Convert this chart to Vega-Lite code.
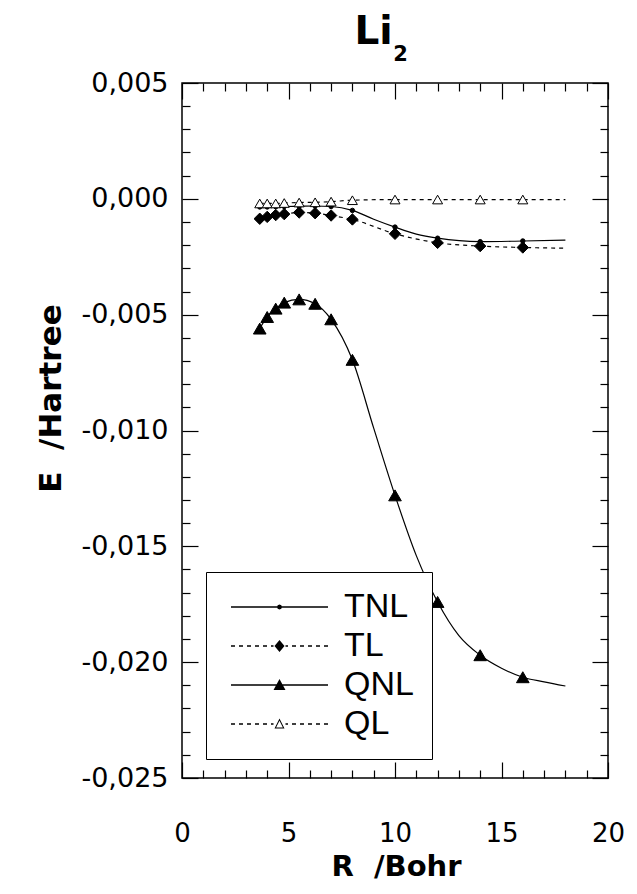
{
  "$schema": "https://vega.github.io/schema/vega-lite/v6.json",
  "autosize": "none",
  "width": 426,
  "height": 695,
  "padding": {"left": 182, "top": 83, "right": 29, "bottom": 116},
  "background": "white",
  "config": {
    "view": {"stroke": "black", "strokeWidth": 1.5},
    "axis": {"grid": false, "domain": false, "tickColor": "black", "tickWidth": 1.2}
  },
  "datasets": {
    "lines": [
      {"series": "TNL", "R": 3.65, "E": -0.00035},
      {"series": "TNL", "R": 4.0, "E": -0.00035},
      {"series": "TNL", "R": 4.4, "E": -0.00034},
      {"series": "TNL", "R": 4.8, "E": -0.00033},
      {"series": "TNL", "R": 5.5, "E": -0.00032},
      {"series": "TNL", "R": 6.25, "E": -0.00031},
      {"series": "TNL", "R": 7, "E": -0.00033},
      {"series": "TNL", "R": 8, "E": -0.0005},
      {"series": "TNL", "R": 9, "E": -0.00088},
      {"series": "TNL", "R": 10, "E": -0.00122},
      {"series": "TNL", "R": 11, "E": -0.00152},
      {"series": "TNL", "R": 12, "E": -0.0017},
      {"series": "TNL", "R": 14, "E": -0.00185},
      {"series": "TNL", "R": 16, "E": -0.00182},
      {"series": "TNL", "R": 18, "E": -0.00178},
      {"series": "TL", "R": 3.65, "E": -0.00086},
      {"series": "TL", "R": 4.0, "E": -0.00078},
      {"series": "TL", "R": 4.4, "E": -0.0007},
      {"series": "TL", "R": 4.8, "E": -0.00066},
      {"series": "TL", "R": 5.5, "E": -0.00059},
      {"series": "TL", "R": 6.25, "E": -0.00062},
      {"series": "TL", "R": 7, "E": -0.00072},
      {"series": "TL", "R": 8, "E": -0.00089},
      {"series": "TL", "R": 10, "E": -0.00151},
      {"series": "TL", "R": 12, "E": -0.0019},
      {"series": "TL", "R": 14, "E": -0.00204},
      {"series": "TL", "R": 16, "E": -0.0021},
      {"series": "TL", "R": 18, "E": -0.00213},
      {"series": "QNL", "R": 3.65, "E": -0.0056},
      {"series": "QNL", "R": 4.0, "E": -0.0051},
      {"series": "QNL", "R": 4.4, "E": -0.00474},
      {"series": "QNL", "R": 4.8, "E": -0.00448},
      {"series": "QNL", "R": 5.5, "E": -0.00434},
      {"series": "QNL", "R": 6.25, "E": -0.00453},
      {"series": "QNL", "R": 7, "E": -0.0052},
      {"series": "QNL", "R": 8, "E": -0.00695},
      {"series": "QNL", "R": 9, "E": -0.0099},
      {"series": "QNL", "R": 10, "E": -0.0128},
      {"series": "QNL", "R": 11, "E": -0.0154},
      {"series": "QNL", "R": 12, "E": -0.0174},
      {"series": "QNL", "R": 13, "E": -0.01885},
      {"series": "QNL", "R": 14, "E": -0.0197},
      {"series": "QNL", "R": 15, "E": -0.02026},
      {"series": "QNL", "R": 16, "E": -0.02065},
      {"series": "QNL", "R": 17, "E": -0.02085},
      {"series": "QNL", "R": 18, "E": -0.02103},
      {"series": "QL", "R": 3.65, "E": -0.0002},
      {"series": "QL", "R": 4.0, "E": -0.0002},
      {"series": "QL", "R": 4.4, "E": -0.0002},
      {"series": "QL", "R": 4.8, "E": -0.00018},
      {"series": "QL", "R": 5.5, "E": -0.00016},
      {"series": "QL", "R": 6.25, "E": -0.00015},
      {"series": "QL", "R": 7, "E": -0.00012},
      {"series": "QL", "R": 8, "E": -0.00006},
      {"series": "QL", "R": 10, "E": -0.00003},
      {"series": "QL", "R": 12, "E": -0.00003},
      {"series": "QL", "R": 14, "E": -0.00003},
      {"series": "QL", "R": 16, "E": -0.00003},
      {"series": "QL", "R": 18, "E": -0.00003}
    ],
    "points": [
      {"series": "TNL", "R": 3.65, "E": -0.00035},
      {"series": "TNL", "R": 4.0, "E": -0.00035},
      {"series": "TNL", "R": 4.4, "E": -0.00034},
      {"series": "TNL", "R": 4.8, "E": -0.00033},
      {"series": "TNL", "R": 5.5, "E": -0.00032},
      {"series": "TNL", "R": 6.25, "E": -0.00031},
      {"series": "TNL", "R": 7, "E": -0.00033},
      {"series": "TNL", "R": 8, "E": -0.0005},
      {"series": "TNL", "R": 10, "E": -0.00122},
      {"series": "TNL", "R": 12, "E": -0.0017},
      {"series": "TNL", "R": 14, "E": -0.00185},
      {"series": "TNL", "R": 16, "E": -0.00182},
      {"series": "TL", "R": 3.65, "E": -0.00086},
      {"series": "TL", "R": 4.0, "E": -0.00078},
      {"series": "TL", "R": 4.4, "E": -0.0007},
      {"series": "TL", "R": 4.8, "E": -0.00066},
      {"series": "TL", "R": 5.5, "E": -0.00059},
      {"series": "TL", "R": 6.25, "E": -0.00062},
      {"series": "TL", "R": 7, "E": -0.00072},
      {"series": "TL", "R": 8, "E": -0.00089},
      {"series": "TL", "R": 10, "E": -0.00151},
      {"series": "TL", "R": 12, "E": -0.0019},
      {"series": "TL", "R": 14, "E": -0.00204},
      {"series": "TL", "R": 16, "E": -0.0021},
      {"series": "QNL", "R": 3.65, "E": -0.0056},
      {"series": "QNL", "R": 4.0, "E": -0.0051},
      {"series": "QNL", "R": 4.4, "E": -0.00474},
      {"series": "QNL", "R": 4.8, "E": -0.00448},
      {"series": "QNL", "R": 5.5, "E": -0.00434},
      {"series": "QNL", "R": 6.25, "E": -0.00453},
      {"series": "QNL", "R": 7, "E": -0.0052},
      {"series": "QNL", "R": 8, "E": -0.00695},
      {"series": "QNL", "R": 10, "E": -0.0128},
      {"series": "QNL", "R": 12, "E": -0.0174},
      {"series": "QNL", "R": 14, "E": -0.0197},
      {"series": "QNL", "R": 16, "E": -0.02065},
      {"series": "QL", "R": 3.65, "E": -0.0002},
      {"series": "QL", "R": 4.0, "E": -0.0002},
      {"series": "QL", "R": 4.4, "E": -0.0002},
      {"series": "QL", "R": 4.8, "E": -0.00018},
      {"series": "QL", "R": 5.5, "E": -0.00016},
      {"series": "QL", "R": 6.25, "E": -0.00015},
      {"series": "QL", "R": 7, "E": -0.00012},
      {"series": "QL", "R": 8, "E": -0.00006},
      {"series": "QL", "R": 10, "E": -0.00003},
      {"series": "QL", "R": 12, "E": -0.00003},
      {"series": "QL", "R": 14, "E": -0.00003},
      {"series": "QL", "R": 16, "E": -0.00003}
    ]
  },
  "resolve": {"axis": {"x": "independent", "y": "independent"}},
  "layer": [
    {
      "data": {"name": "lines"},
      "transform": [{"filter": {"field": "series", "oneOf": ["TNL", "QNL"]}}],
      "mark": {"type": "line", "interpolate": "monotone", "color": "black", "strokeWidth": 1.2},
      "encoding": {
        "x": {
          "field": "R", "type": "quantitative",
          "scale": {"domain": [0, 20], "nice": false, "zero": false},
          "axis": {
            "orient": "bottom",
            "values": [0, 5, 10, 15, 20],
            "tickSize": -16,
            "labelFont": "DejaVu Sans", "labelFontSize": 26, "labelColor": "black",
            "labelPadding": 58, "labelOverlap": false, "labelBound": false, "labelFlush": false,
            "title": "R\u00a0\u00a0/Bohr",
            "titleFont": "DejaVu Sans", "titleFontSize": 29, "titleFontWeight": "bold", "titleColor": "black",
            "titleX": 214, "titleY": 88, "titleBaseline": "middle", "titleAlign": "center"
          }
        },
        "y": {
          "field": "E", "type": "quantitative",
          "scale": {"domain": [-0.025, 0.005], "nice": false, "zero": false},
          "axis": {
            "orient": "left",
            "values": [-0.025, -0.02, -0.015, -0.01, -0.005, 0, 0.005],
            "tickSize": -16,
            "labelExpr": "(datum.value < -0.0000001 ? '-' : '') + replace(format(abs(datum.value), '.3f'), '.', ',')",
            "labelFont": "DejaVu Sans", "labelFontSize": 27, "labelColor": "black",
            "labelPadding": 30, "labelOverlap": false, "labelBound": false, "labelFlush": false,
            "title": "E\u00a0\u00a0/Hartree",
            "titleFont": "DejaVu Sans", "titleFontSize": 31, "titleFontWeight": "bold", "titleColor": "black",
            "titleX": -131, "titleY": 315, "titleBaseline": "middle", "titleAlign": "center", "titleAngle": -90
          }
        },
        "detail": {"field": "series", "type": "nominal"}
      }
    },
    {
      "data": {"name": "lines"},
      "transform": [{"filter": {"field": "series", "oneOf": ["TL", "QL"]}}],
      "mark": {"type": "line", "interpolate": "monotone", "color": "black", "strokeWidth": 1.2, "strokeDash": [4, 4]},
      "encoding": {
        "x": {
          "field": "R", "type": "quantitative",
          "axis": {
            "orient": "bottom",
            "values": [1,2,3,4,6,7,8,9,11,12,13,14,16,17,18,19],
            "tickSize": -8, "labels": false, "title": null
          }
        },
        "y": {
          "field": "E", "type": "quantitative",
          "axis": {
            "orient": "left",
            "values": [-0.024,-0.023,-0.022,-0.021,-0.019,-0.018,-0.017,-0.016,-0.014,-0.013,-0.012,-0.011,-0.009,-0.008,-0.007,-0.006,-0.004,-0.003,-0.002,-0.001,0.001,0.002,0.003,0.004],
            "tickSize": -8, "labels": false, "title": null
          }
        },
        "detail": {"field": "series", "type": "nominal"}
      }
    },
    {
      "data": {"name": "points"},
      "transform": [{"filter": {"field": "series", "equal": "TL"}}],
      "mark": {"type": "point", "shape": "diamond", "filled": true, "fill": "black", "stroke": "black", "strokeWidth": 1, "opacity": 1, "size": 130},
      "encoding": {
        "x": {
          "field": "R", "type": "quantitative",
          "axis": {
            "orient": "top",
            "values": [0, 5, 10, 15, 20],
            "tickSize": -16, "labels": false,
            "title": "Li",
            "titleFont": "DejaVu Sans", "titleFontSize": 39, "titleFontWeight": "bold", "titleColor": "black",
            "titleX": 191, "titleY": -40, "titleBaseline": "alphabetic", "titleAlign": "center"
          }
        },
        "y": {
          "field": "E", "type": "quantitative",
          "axis": {
            "orient": "right",
            "values": [-0.025, -0.02, -0.015, -0.01, -0.005, 0, 0.005],
            "tickSize": -16, "labels": false, "title": null
          }
        }
      }
    },
    {
      "data": {"name": "points"},
      "transform": [{"filter": {"field": "series", "equal": "QNL"}}],
      "mark": {"type": "point", "shape": "triangle-up", "filled": true, "fill": "black", "stroke": "black", "strokeWidth": 1, "opacity": 1, "size": 160},
      "encoding": {
        "x": {
          "field": "R", "type": "quantitative",
          "axis": {
            "orient": "top",
            "values": [1,2,3,4,6,7,8,9,11,12,13,14,16,17,18,19],
            "tickSize": -8, "labels": false,
            "title": "2",
            "titleFont": "DejaVu Sans", "titleFontSize": 21, "titleFontWeight": "bold", "titleColor": "black",
            "titleX": 218, "titleY": -23, "titleBaseline": "alphabetic", "titleAlign": "center"
          }
        },
        "y": {
          "field": "E", "type": "quantitative",
          "axis": {
            "orient": "right",
            "values": [-0.024,-0.023,-0.022,-0.021,-0.019,-0.018,-0.017,-0.016,-0.014,-0.013,-0.012,-0.011,-0.009,-0.008,-0.007,-0.006,-0.004,-0.003,-0.002,-0.001,0.001,0.002,0.003,0.004],
            "tickSize": -8, "labels": false, "title": null
          }
        }
      }
    },
    {
      "data": {"name": "points"},
      "transform": [{"filter": {"field": "series", "equal": "TNL"}}],
      "mark": {"type": "point", "shape": "circle", "filled": true, "fill": "black", "stroke": "black", "strokeWidth": 1, "opacity": 1, "size": 20},
      "encoding": {
        "x": {"field": "R", "type": "quantitative", "axis": null},
        "y": {"field": "E", "type": "quantitative", "axis": null}
      }
    },
    {
      "data": {"name": "points"},
      "transform": [{"filter": {"field": "series", "equal": "QL"}}],
      "mark": {"type": "point", "shape": "triangle-up", "filled": true, "fill": "white", "stroke": "black", "strokeWidth": 1, "opacity": 1, "size": 100},
      "encoding": {
        "x": {"field": "R", "type": "quantitative", "axis": null},
        "y": {"field": "E", "type": "quantitative", "axis": null}
      }
    },
    {
      "data": {"name": "points"},
      "transform": [{"filter": {"field": "R", "equal": 16}}],
      "mark": {"type": "point", "filled": true, "fill": "black", "stroke": "black", "strokeWidth": 1.2, "opacity": 0, "size": 400},
      "encoding": {
        "x": {"field": "R", "type": "quantitative", "axis": null},
        "y": {"field": "E", "type": "quantitative", "axis": null},
        "shape": {
          "field": "series", "type": "nominal",
          "scale": {
            "domain": ["TNL", "TL", "QNL", "QL"],
            "range": [
              "M-4.85,-0.07H4.85V0.07H-4.85ZM0.25,0L0.18,0.18L0,0.25L-0.18,0.18L-0.25,0L-0.18,-0.18L0,-0.25L0.18,-0.18Z",
              "M-4.85,-0.07H-4.45V0.07H-4.85ZM-4.05,-0.07H-3.65V0.07H-4.05ZM-3.25,-0.07H-2.85V0.07H-3.25ZM-2.45,-0.07H-2.05V0.07H-2.45ZM-1.65,-0.07H-1.25V0.07H-1.65ZM-0.85,-0.07H-0.6V0.07H-0.85ZM0.6,-0.07H0.85V0.07H0.6ZM1.25,-0.07H1.65V0.07H1.25ZM2.05,-0.07H2.45V0.07H2.05ZM2.85,-0.07H3.25V0.07H2.85ZM3.65,-0.07H4.05V0.07H3.65ZM4.45,-0.07H4.85V0.07H4.45ZM0,-0.6L0.5,0L0,0.6L-0.5,0Z",
              "M-4.85,-0.07H4.85V0.07H-4.85ZM0,-0.6L0.6,0.5L-0.6,0.5Z",
              "M-4.85,-0.07H-4.45V0.07H-4.85ZM-4.05,-0.07H-3.65V0.07H-4.05ZM-3.25,-0.07H-2.85V0.07H-3.25ZM-2.45,-0.07H-2.05V0.07H-2.45ZM-1.65,-0.07H-1.25V0.07H-1.65ZM-0.85,-0.07H-0.6V0.07H-0.85ZM0.6,-0.07H0.85V0.07H0.6ZM1.25,-0.07H1.65V0.07H1.25ZM2.05,-0.07H2.45V0.07H2.05ZM2.85,-0.07H3.25V0.07H2.85ZM3.65,-0.07H4.05V0.07H3.65ZM4.45,-0.07H4.85V0.07H4.45ZM0,-0.55L0.5,0.45L-0.5,0.45ZM0,-0.326L-0.338,0.35L0.338,0.35Z"
            ]
          },
          "legend": {
            "orient": "none", "legendX": 24, "legendY": 489,
            "title": null,
            "strokeColor": "black", "fillColor": "white",
            "padding": 18, "symbolOffset": 38.5,
            "symbolSize": 400, "labelOffset": 47.5,
            "labelFont": "Liberation Sans", "labelFontSize": 34, "labelColor": "black",
            "rowPadding": 5,
            "symbolOpacity": 1,
            "symbolFillColor": "black",
            "symbolStrokeColor": "black", "symbolStrokeWidth": 0
          }
        }
      }
    }
  ]
}
